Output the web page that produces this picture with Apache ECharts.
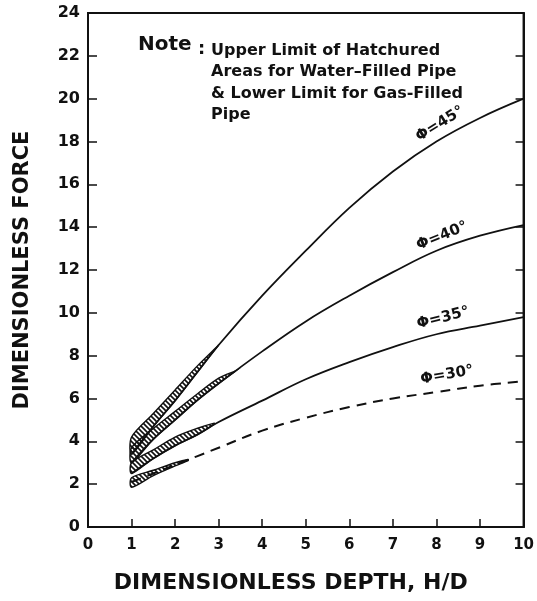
<!DOCTYPE html>
<html>
<head>
<meta charset="utf-8">
<script src="https://cdn.jsdelivr.net/npm/echarts@6/dist/echarts.min.js"></script>
<style>
  html, body { margin: 0; padding: 0; background: #fff; }
  #echarts { width: 537px; height: 601px; }
</style>
</head>
<body>
<div id="echarts"></div>
<script>
// 曲线横坐标 H/D
var depth = [1, 1.5, 2, 2.5, 3, 4, 5, 6, 7, 8, 9, 10];
// 各内摩擦角曲线（φ=30° 为虚线）
var force45 = [3.4, 4.7, 5.9, 7.2, 8.5, 10.8, 12.9, 14.9, 16.6, 18.0, 19.1, 20.0];
var force40 = [3.0, 4.1, 5.0, 5.9, 6.7, 8.2, 9.6, 10.8, 11.9, 12.9, 13.6, 14.1];
var force35 = [2.5, 3.2, 3.8, 4.3, 4.9, 5.9, 6.9, 7.7, 8.4, 9.0, 9.4, 9.8];
var force30 = [2.1, 2.5, 2.9, 3.3, 3.7, 4.5, 5.1, 5.6, 6.0, 6.3, 6.6, 6.8];

// 阴影区（上限/下限）
var hatch45X = [1, 1.5, 2, 2.5, 3];
var hatch45Upper = [4.2, 5.3, 6.4, 7.5, 8.5];
var hatch45Lower = [3.4, 4.7, 5.9, 7.2, 8.5];
var hatch40X = [1, 1.5, 2, 2.5, 3, 3.4];
var hatch40Upper = [3.7, 4.6, 5.4, 6.2, 6.95, 7.3];
var hatch40Lower = [3.0, 4.1, 5.0, 5.9, 6.7, 7.3];
var hatch35X = [1, 1.5, 2, 2.5, 2.9];
var hatch35Upper = [3.0, 3.6, 4.2, 4.6, 4.85];
var hatch35Lower = [2.5, 3.2, 3.8, 4.3, 4.8];
var hatch30X = [1, 1.5, 2, 2.3];
var hatch30Upper = [2.3, 2.65, 3.0, 3.15];
var hatch30Lower = [1.85, 2.4, 2.85, 3.1];

var curveLabels = ['Φ=45°', 'Φ=40°', 'Φ=35°', 'Φ=30°'];
var noteTitle = 'Note';
var noteLines = ['Upper Limit of Hatchured', 'Areas for Water\u2013Filled Pipe', '& Lower Limit for Gas-Filled', 'Pipe'];

var bands = [
  { x: hatch45X, upper: hatch45Upper, lower: hatch45Lower },
  { x: hatch40X, upper: hatch40Upper, lower: hatch40Lower },
  { x: hatch35X, upper: hatch35Upper, lower: hatch35Lower },
  { x: hatch30X, upper: hatch30Upper, lower: hatch30Lower }
];

function pairs(xs, ys) {
  var out = [];
  for (var i = 0; i < xs.length; i++) out.push([xs[i], ys[i]]);
  return out;
}

// 斜线填充图案
var tile = document.createElement('canvas');
tile.width = 5; tile.height = 5;
var ctx = tile.getContext('2d');
ctx.strokeStyle = '#111';
ctx.lineWidth = 1.6;
ctx.beginPath();
ctx.moveTo(-1, -1); ctx.lineTo(6, 6);
ctx.moveTo(-1, 4); ctx.lineTo(1, 6);
ctx.moveTo(4, -1); ctx.lineTo(6, 1);
ctx.stroke();

var ink = '#111';
var font = 'DejaVu Sans';

var chart = echarts.init(document.getElementById('echarts'), null, { renderer: 'canvas' });

chart.setOption({
  backgroundColor: '#fff',
  animation: false,
  grid: {
    left: 88, right: 11, top: 13, bottom: 74,
    show: true, borderColor: ink, borderWidth: 2, backgroundColor: 'transparent'
  },
  xAxis: {
    type: 'value', min: 0, max: 10, interval: 1,
    name: 'DIMENSIONLESS DEPTH, H/D',
    nameLocation: 'middle', nameGap: 45,
    nameTextStyle: { color: ink, fontFamily: font, fontWeight: 'bold', fontSize: 22, padding: [0, 30, 0, 0] },
    axisLine: { lineStyle: { color: ink, width: 2 } },
    axisTick: { inside: true, length: 8, lineStyle: { color: ink, width: 1.5 } },
    axisLabel: { color: ink, fontFamily: font, fontWeight: 'bold', fontSize: 15, margin: 11 },
    splitLine: { show: false }
  },
  yAxis: [{
    type: 'value', min: 0, max: 24, interval: 2,
    name: 'DIMENSIONLESS FORCE',
    nameLocation: 'middle', nameGap: 55,
    nameTextStyle: { color: ink, fontFamily: font, fontWeight: 'bold', fontSize: 21, padding: [0, 0, 0, 0] },
    axisLine: { show: true, lineStyle: { color: ink, width: 2 } },
    axisTick: { show: true, inside: true, length: 9, lineStyle: { color: ink, width: 1.5 } },
    axisLabel: { color: ink, fontFamily: font, fontWeight: 'bold', fontSize: 16, margin: 8 },
    splitLine: { show: false }
  }, {
    type: 'value', min: 0, max: 24, interval: 2, position: 'right',
    axisLine: { show: true, lineStyle: { color: ink, width: 2 } },
    axisTick: { show: true, inside: true, length: 8, lineStyle: { color: ink, width: 1.5 } },
    axisLabel: { show: false },
    splitLine: { show: false }
  }],
  graphic: [
    { type: 'text', left: 138, top: 35, style: { text: noteTitle, fill: ink, font: 'bold 20px "DejaVu Sans"' } },
    { type: 'text', left: 198, top: 40, style: { text: ':', fill: ink, font: 'bold 18px "DejaVu Sans"' } },
    { type: 'text', left: 211, top: 40, style: { text: noteLines.join('\n'), fill: ink, font: 'bold 16px "DejaVu Sans"', lineHeight: 21.5 } },
    { type: 'text', x: 440, y: 124, rotation: 32 * Math.PI / 180, style: { text: curveLabels[0], fill: ink, font: 'bold 15px "DejaVu Sans"', align: 'center', verticalAlign: 'middle' } },
    { type: 'text', x: 442, y: 236, rotation: 22 * Math.PI / 180, style: { text: curveLabels[1], fill: ink, font: 'bold 15px "DejaVu Sans"', align: 'center', verticalAlign: 'middle' } },
    { type: 'text', x: 443, y: 318, rotation: 14 * Math.PI / 180, style: { text: curveLabels[2], fill: ink, font: 'bold 15px "DejaVu Sans"', align: 'center', verticalAlign: 'middle' } },
    { type: 'text', x: 447, y: 375, rotation: 10 * Math.PI / 180, style: { text: curveLabels[3], fill: ink, font: 'bold 15px "DejaVu Sans"', align: 'center', verticalAlign: 'middle' } }
  ],
  series: [
    {
      name: 'hatch', type: 'custom', coordinateSystem: 'cartesian2d',
      data: bands.map(function (b, i) { return [b.x[0], b.lower[0], i]; }),
      encode: { x: 0, y: 1 },
      z: 3,
      renderItem: function (params, api) {
        var b = bands[params.dataIndex];
        var pts = [];
        for (var i = 0; i < b.x.length; i++) pts.push(api.coord([b.x[i], b.upper[i]]));
        for (var j = b.x.length - 1; j >= 0; j--) pts.push(api.coord([b.x[j], b.lower[j]]));
        return {
          type: 'polygon',
          shape: { points: pts, smooth: 0.3 },
          style: { fill: { image: tile, repeat: 'repeat' }, stroke: ink, lineWidth: 1.4 }
        };
      }
    },
    { name: '45', type: 'line', data: pairs(depth, force45), smooth: 0.4, showSymbol: false, lineStyle: { color: ink, width: 1.8 }, z: 4 },
    { name: '40', type: 'line', data: pairs(depth, force40), smooth: 0.4, showSymbol: false, lineStyle: { color: ink, width: 1.8 }, z: 4 },
    { name: '35', type: 'line', data: pairs(depth, force35), smooth: 0.4, showSymbol: false, lineStyle: { color: ink, width: 1.8 }, z: 4 },
    { name: '30', type: 'line', data: pairs(depth, force30), smooth: 0.4, showSymbol: false, lineStyle: { color: ink, width: 2, type: [10, 7] }, z: 4 }
  ]
});
</script>
</body>
</html>
